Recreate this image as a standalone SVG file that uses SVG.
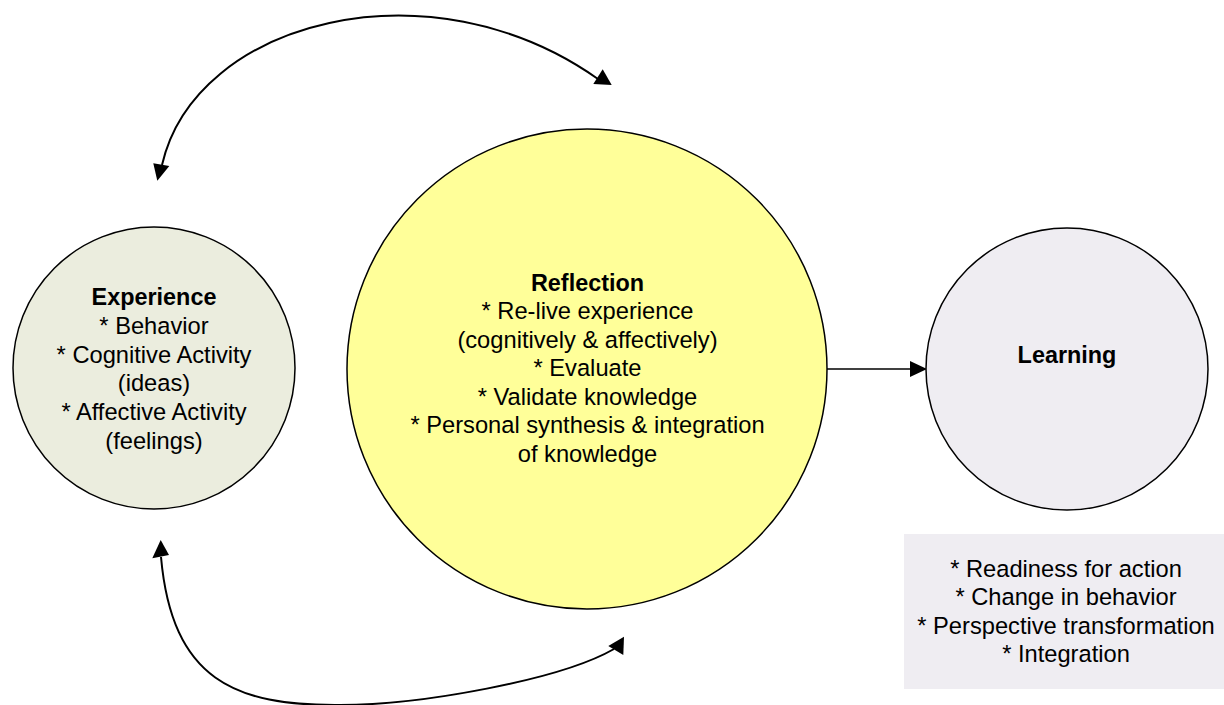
<svg xmlns="http://www.w3.org/2000/svg" width="1224" height="705" viewBox="0 0 1224 705">
  <style>
    .node { stroke: #000; stroke-width: 1.5; }
    .label { font-family: "Liberation Sans", Arial, sans-serif; font-size: 23.7px; fill: #000; text-anchor: middle; }
    .title { font-weight: bold; font-size: 23.4px; }
    .wire { fill: none; stroke: #000; stroke-width: 2; }
    .link { fill: none; stroke: #000; stroke-width: 1.5; }
    .head { fill: #000; stroke: none; }
  </style>
  <rect x="0" y="0" width="1224" height="705" fill="#fff"/>

  <g id="connectors">
    <!-- cycle: reflection back to experience (top) -->
    <path class="wire" d="M162,165 C195,20 430,-40 598,79"/>
    <polygon class="head" points="153.3,163.3 169.3,166 157.3,180.7"/>
    <polygon class="head" points="602.7,69.3 593.3,84 611.7,85"/>
    <!-- cycle: experience to reflection (bottom) -->
    <path class="wire" d="M161,557 C172,680 235,706 340,705 C420,705 560,680 614,649"/>
    <polygon class="head" points="152.3,558.3 160.7,540 169,555"/>
    <polygon class="head" points="608.3,646 624,636.7 623.3,655"/>
    <!-- reflection to learning -->
    <line class="link" x1="827" y1="369" x2="912" y2="369"/>
    <polygon class="head" points="910,361 927,369 910,377"/>
  </g>

  <g id="experience">
    <circle class="node" cx="154" cy="368" r="141" fill="#ebedde"/>
    <text class="label title" x="154" y="305">Experience</text>
    <text class="label" x="154" y="334">* Behavior</text>
    <text class="label" x="154" y="362.5">* Cognitive Activity</text>
    <text class="label" x="154" y="391">(ideas)</text>
    <text class="label" x="154" y="420">* Affective Activity</text>
    <text class="label" x="154" y="448.5">(feelings)</text>
  </g>

  <g id="reflection">
    <circle class="node" cx="587" cy="369" r="240" fill="#ffff99"/>
    <text class="label title" x="587.5" y="290.5">Reflection</text>
    <text class="label" x="587.5" y="319">* Re-live experience</text>
    <text class="label" x="587.5" y="347.5">(cognitively &amp; affectively)</text>
    <text class="label" x="587.5" y="376">* Evaluate</text>
    <text class="label" x="587.5" y="404.5">* Validate knowledge</text>
    <text class="label" x="587.5" y="433">* Personal synthesis &amp; integration</text>
    <text class="label" x="587.5" y="461.5">of knowledge</text>
  </g>

  <g id="learning">
    <circle class="node" cx="1067" cy="369" r="141" fill="#efedf2"/>
    <text class="label title" x="1067" y="363">Learning</text>
  </g>

  <g id="outcomes">
    <rect x="904" y="534" width="320" height="155" fill="#efedf2"/>
    <text class="label" x="1066" y="576.5">* Readiness for action</text>
    <text class="label" x="1066" y="605">* Change in behavior</text>
    <text class="label" x="1066" y="633.5">* Perspective transformation</text>
    <text class="label" x="1066" y="662">* Integration</text>
  </g>
</svg>
